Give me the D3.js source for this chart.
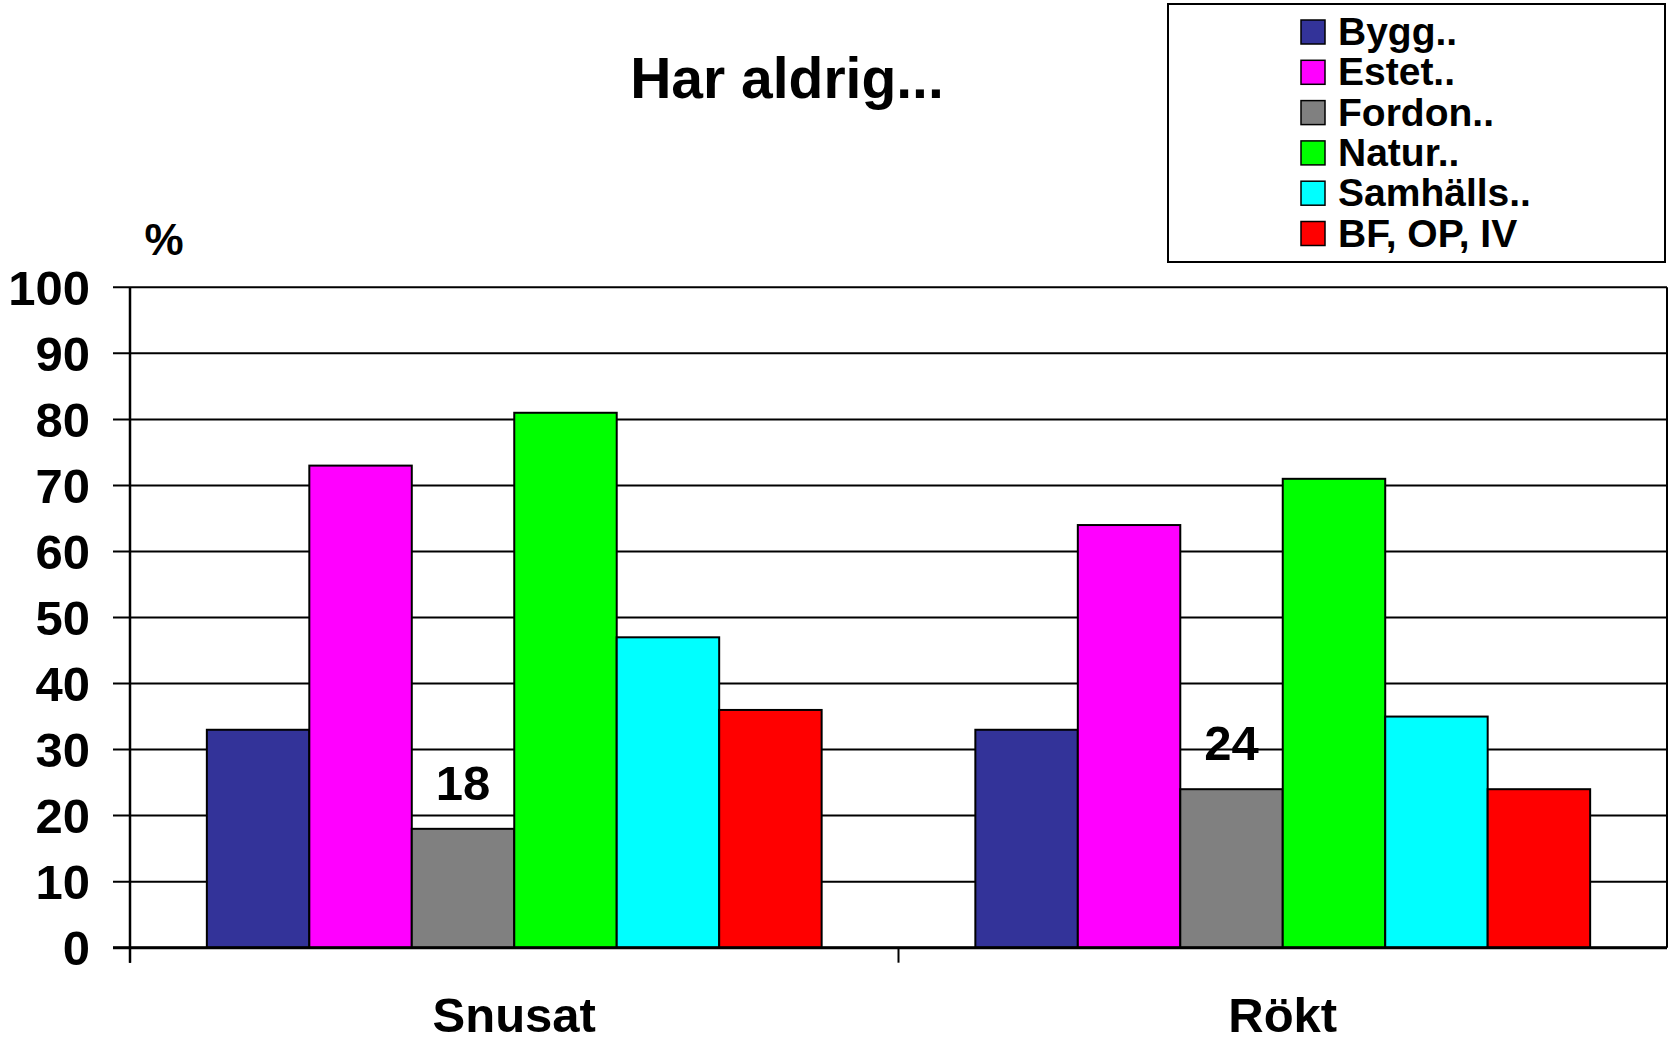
<html lang="sv">
<head>
<meta charset="UTF-8">
<title>Har aldrig...</title>
<script src="https://cdn.jsdelivr.net/npm/d3@7"></script>
<style>
  body { margin: 0; background: #fff; }
  text { font-family: "Liberation Sans", Arial, sans-serif; font-weight: bold; fill: #000; }
</style>
</head>
<body>
<svg id="chart"></svg>
<script>
// data
var categories = ["Snusat", "Rökt"];
var seriesNames = ["Bygg..", "Estet..", "Fordon..", "Natur..", "Samhälls..", "BF, OP, IV"];
var seriesColors = ["#333399", "#ff00ff", "#808080", "#00ff00", "#00ffff", "#ff0000"];
var snusatValues = [33, 73, 18, 81, 47, 36];
var roktValues = [33, 64, 24, 71, 35, 24];
var yTicks = [0, 10, 20, 30, 40, 50, 60, 70, 80, 90, 100];
// only the Fordon bars carry a value label
var labelledSeries = ["Fordon.."];

var width = 1669, height = 1044;
var plotLeft = 130, plotRight = 1667, plotTop = 287.3, plotBottom = 947.7;

var svg = d3.select("#chart").attr("width", width).attr("height", height);

var rows = categories.map(function(c, i) {
    var vals = i == 0 ? snusatValues : roktValues;
    return { cat: c, values: seriesNames.map(function(s, j) { return { name: s, value: vals[j], color: seriesColors[j] }; }) };
});

var y = d3.scaleLinear().domain([0, 100]).range([plotBottom, plotTop]);
var x0 = d3.scaleBand().domain(categories).range([plotLeft, plotRight]).paddingInner(0.2).paddingOuter(0.1);
var x1 = d3.scaleBand().domain(seriesNames).range([0, x0.bandwidth()]);

// grid lines
svg.append("g").selectAll("line")
    .data(yTicks)
    .enter().append("line")
    .attr("x1", plotLeft - 17).attr("x2", plotRight)
    .attr("y1", function(d) { return y(d); }).attr("y2", function(d) { return y(d); })
    .attr("stroke", "#000").attr("stroke-width", 2);

// right edge
svg.append("line").attr("x1", plotRight).attr("x2", plotRight).attr("y1", plotTop).attr("y2", plotBottom)
    .attr("stroke", "#000").attr("stroke-width", 2);

// y tick labels
svg.append("g").selectAll("text")
    .data(yTicks)
    .enter().append("text")
    .attr("x", 90).attr("y", function(d) { return y(d); })
    .attr("dy", "0.36em")
    .attr("text-anchor", "end")
    .style("font-size", "49px")
    .text(function(d) { return d; });

svg.append("text").attr("x", 164).attr("y", 255).attr("text-anchor", "middle")
    .style("font-size", "44px").text("%");

// bars
var group = svg.append("g").selectAll("g")
    .data(rows)
    .enter().append("g")
    .attr("transform", function(d) { return "translate(" + x0(d.cat) + ",0)"; });

group.selectAll("rect")
    .data(function(d) { return d.values; })
    .enter().append("rect")
    .attr("x", function(d) { return x1(d.name); })
    .attr("y", function(d) { return y(d.value); })
    .attr("width", x1.bandwidth())
    .attr("height", function(d) { return y(0) - y(d.value); })
    .attr("fill", function(d) { return d.color; })
    .attr("stroke", "#000").attr("stroke-width", 2);

group.selectAll("text.val")
    .data(function(d) { return d.values.filter(function(v) { return labelledSeries.indexOf(v.name) >= 0; }); })
    .enter().append("text")
    .attr("class", "val")
    .attr("x", function(d) { return x1(d.name) + x1.bandwidth() / 2; })
    .attr("y", function(d) { return y(d.value) - 29; })
    .attr("text-anchor", "middle")
    .style("font-size", "49px")
    .text(function(d) { return d.value; });

// axes lines
svg.append("line").attr("x1", plotLeft).attr("x2", plotLeft).attr("y1", plotTop).attr("y2", plotBottom + 15)
    .attr("stroke", "#000").attr("stroke-width", 2.5);
svg.append("line").attr("x1", plotLeft - 17).attr("x2", plotRight).attr("y1", plotBottom).attr("y2", plotBottom)
    .attr("stroke", "#000").attr("stroke-width", 3);

// category separators
var sepX = [plotLeft].concat(categories.slice(1).map(function(c) { return x0(c) - x0.step() * x0.paddingInner() / 2; }));
svg.append("g").selectAll("line")
    .data(sepX)
    .enter().append("line")
    .attr("x1", function(d) { return d; }).attr("x2", function(d) { return d; })
    .attr("y1", plotBottom).attr("y2", plotBottom + 15)
    .attr("stroke", "#000").attr("stroke-width", 2);

svg.append("g").selectAll("text")
    .data(categories)
    .enter().append("text")
    .attr("x", function(d) { return x0(d) + x0.bandwidth() / 2; })
    .attr("y", 1032)
    .attr("text-anchor", "middle")
    .style("font-size", "49px")
    .text(function(d) { return d; });

// title
svg.append("text").attr("x", 787).attr("y", 98).attr("text-anchor", "middle")
    .style("font-size", "57px").text("Har aldrig...");

// legend
var legend = svg.append("g");
legend.append("rect").attr("x", 1168).attr("y", 4).attr("width", 497).attr("height", 258)
    .attr("fill", "#fff").attr("stroke", "#000").attr("stroke-width", 2);

var item = legend.selectAll("g.item")
    .data(seriesNames)
    .enter().append("g")
    .attr("class", "item")
    .attr("transform", function(d, i) { return "translate(1301," + (20 + i * 40.3) + ")"; });

item.append("rect").attr("width", 24).attr("height", 24)
    .attr("fill", function(d, i) { return seriesColors[i]; })
    .attr("stroke", "#000").attr("stroke-width", 1.5);

item.append("text").attr("x", 37).attr("y", 25)
    .style("font-size", "39px")
    .text(function(d) { return d; });
</script>
</body>
</html>
